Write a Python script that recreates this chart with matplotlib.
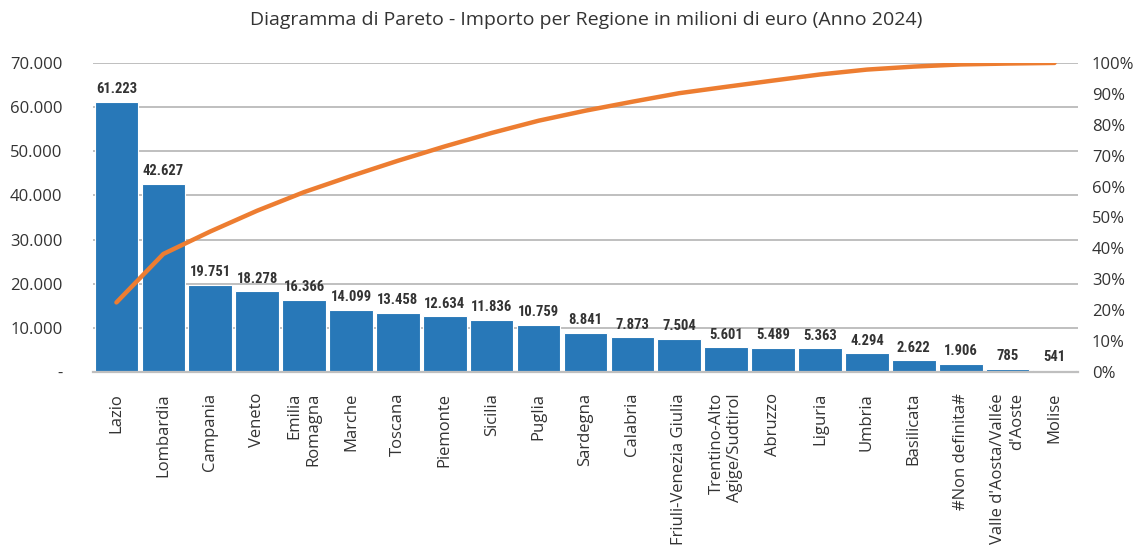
import matplotlib
matplotlib.use("Agg")
import matplotlib.pyplot as plt
from matplotlib.ticker import FuncFormatter, MultipleLocator
import numpy as np

regioni = [
    "Lazio", "Lombardia", "Campania", "Veneto", "Emilia\nRomagna", "Marche",
    "Toscana", "Piemonte", "Sicilia", "Puglia", "Sardegna", "Calabria",
    "Friuli-Venezia Giulia", "Trentino-Alto\nAgige/Sudtirol", "Abruzzo",
    "Liguria", "Umbria", "Basilicata", "#Non definita#",
    "Valle d'Aosta/Vallée\nd'Aoste", "Molise",
]
importi = [
    61223, 42627, 19751, 18278, 16366, 14099, 13458, 12634, 11836, 10759,
    8841, 7873, 7504, 5601, 5489, 5363, 4294, 2622, 1906, 785, 541,
]

plt.rcParams["font.family"] = ["Open Sans", "DejaVu Sans"]
TEXT = "#333333"
BAR = "#2878B8"
LINE = "#ED7D31"
GRID = "#BFBFBF"

valori = np.array(importi, dtype=float)
cumulata = np.cumsum(valori) / valori.sum()
x = np.arange(len(regioni))

fig = plt.figure(figsize=(11.34, 5.52), dpi=100)
ax = fig.add_axes([0.082, 0.326, 0.8686, 0.560])

ax.bar(x, valori, width=0.93, color=BAR, edgecolor="white", linewidth=0.8, zorder=3)
for xi, v in zip(x, importi):
    ax.annotate(f"{v:,}".replace(",", "."), (xi, v), xytext=(0, 4),
                textcoords="offset points", ha="center", va="bottom",
                fontsize=10.5, fontweight="bold", color=TEXT,
                family=["Roboto Condensed", "Roboto", "DejaVu Sans"], zorder=4)

ax.set_ylim(0, 70000)
ax.set_xlim(-0.5, len(regioni) - 0.5)
ax.yaxis.set_major_locator(MultipleLocator(10000))
ax.yaxis.set_major_formatter(FuncFormatter(
    lambda v, _: "-" if v == 0 else f"{v:,.0f}".replace(",", ".")))
ax.grid(axis="y", color=GRID, linewidth=1.4, zorder=0)
ax.set_axisbelow(True)
for s in ("top", "left", "right"):
    ax.spines[s].set_visible(False)
ax.spines["bottom"].set_color(GRID)
ax.spines["bottom"].set_linewidth(1.6)
ax.spines["bottom"].set_zorder(5)
ax.tick_params(axis="y", length=0, labelsize=12, labelcolor=TEXT, pad=22)
ax.tick_params(axis="x", length=0, labelsize=12, labelcolor=TEXT, pad=15)
ax.set_xticks(x)
ax.set_xticklabels(regioni, rotation=90, multialignment="right")

ax2 = ax.twinx()
ax2.plot(x, cumulata, color=LINE, linewidth=3.2, solid_capstyle="round",
         solid_joinstyle="round", zorder=6)
ax2.set_ylim(0, 1.0)
ax2.yaxis.set_major_locator(MultipleLocator(0.1))
ax2.yaxis.set_major_formatter(FuncFormatter(lambda v, _: f"{v*100:.0f}%"))
ax2.tick_params(axis="y", length=0, labelsize=12, labelcolor=TEXT, pad=10)
for s in ax2.spines.values():
    s.set_visible(False)

fig.text(0.517, 0.964, "Diagramma di Pareto - Importo per Regione in milioni di euro (Anno 2024)",
         ha="center", va="center", fontsize=14, color=TEXT)

fig.savefig("out.png", dpi=100)
